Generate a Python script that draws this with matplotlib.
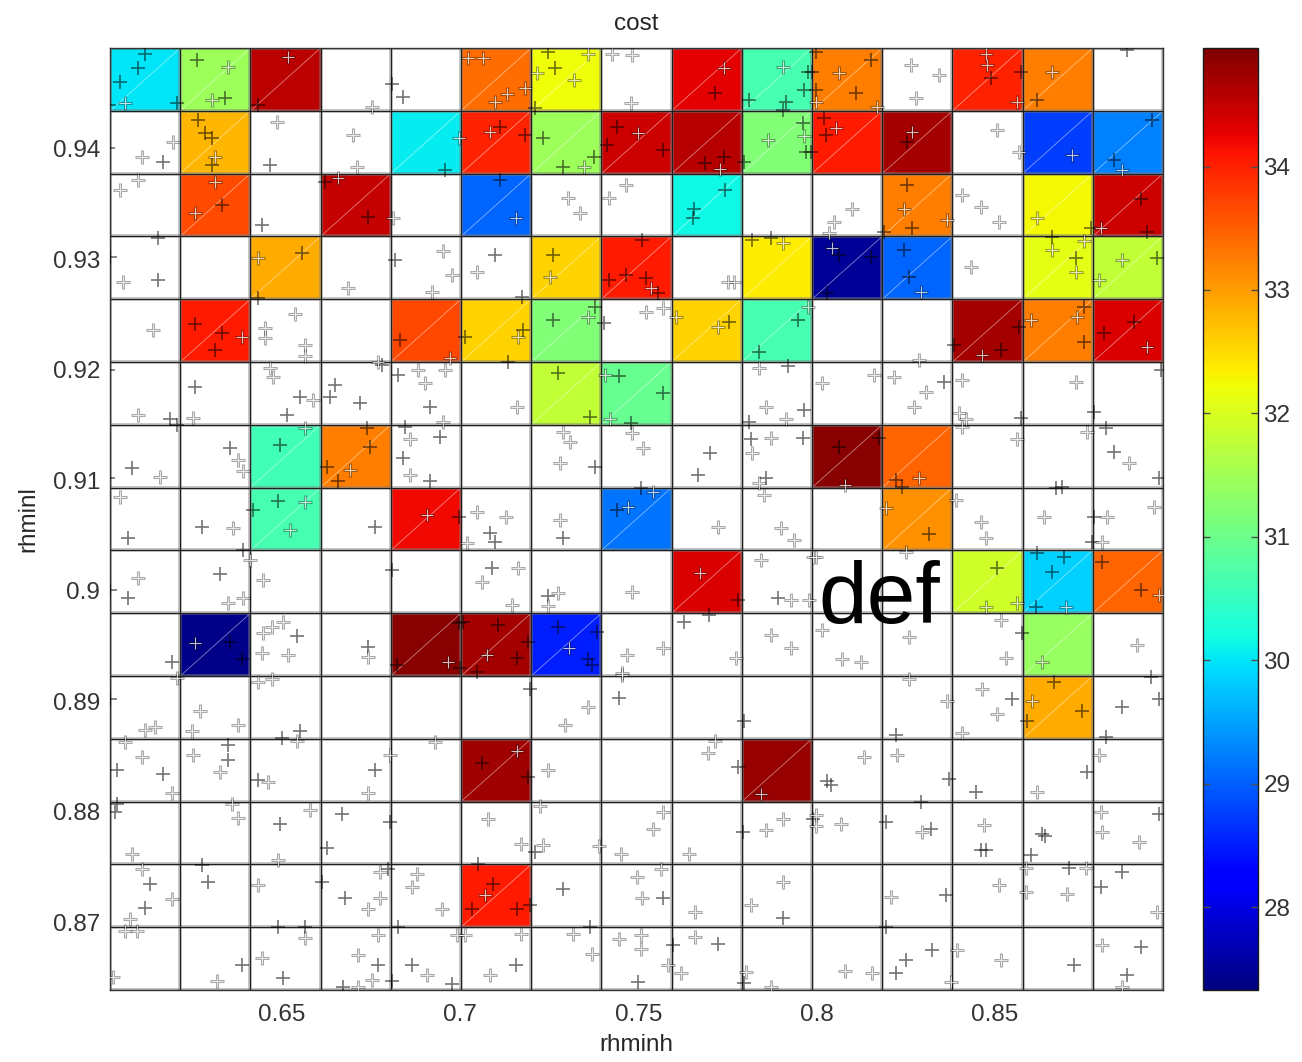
import numpy as np
import matplotlib
matplotlib.use('Agg')
import matplotlib.pyplot as plt
from matplotlib.colors import Normalize

plt.rcParams['font.family'] = ['Liberation Sans', 'DejaVu Sans']

# parameter ranges covered by the 15 x 15 binning
rhminh_range = (0.6017, 0.8972)
rhminl_range = (0.8639, 0.9491)
n_bins = 15
cost_range = (27.33, 34.96)

nan = np.nan
# mean cost per bin, rows listed from the top (high rhminl) down
cost_rows = [
    [30.0, 31.45, 34.55, nan, nan, 33.4, 32.2, nan, 34.3, 30.65, 33.25, nan, 34.0, 33.25, nan],
    [nan, 32.8, nan, nan, 30.05, 34.0, 31.45, 34.45, 34.6, 31.2, 34.05, 34.7, nan, 28.75, 29.25],
    [nan, 33.65, nan, 34.5, nan, 29.05, nan, nan, 30.15, nan, nan, 33.25, nan, 32.25, 34.45],
    [nan, nan, 32.9, nan, nan, nan, 32.55, 34.05, nan, 32.35, 27.5, 29.05, nan, 32.1, 31.8],
    [nan, 34.05, nan, nan, 33.7, 32.55, 31.2, nan, 32.55, 30.65, nan, nan, 34.7, 33.25, 34.35],
    [nan, nan, nan, nan, nan, nan, 31.8, 30.95, nan, nan, nan, nan, nan, nan, nan],
    [nan, nan, 30.6, 33.25, nan, nan, nan, nan, nan, nan, 34.9, 33.45, nan, nan, nan],
    [nan, nan, 30.65, nan, 34.2, nan, nan, 29.15, nan, nan, nan, 33.1, nan, nan, nan],
    [nan, nan, nan, nan, nan, nan, nan, nan, 34.35, nan, nan, nan, 31.9, 29.85, 33.45],
    [nan, 27.4, nan, nan, 34.9, 34.7, 28.5, nan, nan, nan, nan, nan, nan, 31.4, nan],
    [nan, nan, nan, nan, nan, nan, nan, nan, nan, nan, nan, nan, nan, 32.9, nan],
    [nan, nan, nan, nan, nan, 34.75, nan, nan, nan, 34.8, nan, nan, nan, nan, nan],
    [nan] * 15,
    [nan, nan, nan, nan, nan, 34.05, nan, nan, nan, nan, nan, nan, nan, nan, nan],
    [nan] * 15,
]

# sampled runs (rhminh, rhminl), split by marker shade
dark_runs = [
    (0.6115, 0.9486), (0.6096, 0.9473), (0.6045, 0.9460), (0.6015, 0.9439), (0.6205, 0.9441),
    (0.6261, 0.9480), (0.6340, 0.9446), (0.6433, 0.9439), (0.6809, 0.9458), (0.6840, 0.9447),
    (0.6958, 0.9381), (0.6011, 0.9401), (0.6166, 0.9388), (0.6264, 0.9426), (0.6284, 0.9414),
    (0.6304, 0.9410), (0.6304, 0.9385), (0.6466, 0.9385), (0.6332, 0.9349), (0.6444, 0.9331),
    (0.6621, 0.9370), (0.6742, 0.9338), (0.6152, 0.9319), (0.6017, 0.9302), (0.6152, 0.9281),
    (0.6556, 0.9306), (0.6433, 0.9265), (0.6818, 0.9299), (0.6256, 0.9241), (0.6332, 0.9233),
    (0.6312, 0.9218), (0.6832, 0.9227),
    (0.7245, 0.9487), (0.7267, 0.9473), (0.7211, 0.9437), (0.7716, 0.9450), (0.7975, 0.9469),
    (0.7809, 0.9444), (0.7913, 0.9442), (0.7964, 0.9453), (0.7907, 0.9435), (0.7112, 0.9420),
    (0.7183, 0.9412), (0.7233, 0.9410), (0.7287, 0.9383), (0.7374, 0.9392), (0.7441, 0.9420),
    (0.7413, 0.9403), (0.7568, 0.9399), (0.7688, 0.9387), (0.7739, 0.9392), (0.7795, 0.9388),
    (0.7961, 0.9423), (0.7969, 0.9397), (0.7112, 0.9372), (0.7744, 0.9363), (0.7655, 0.9345),
    (0.7652, 0.9337), (0.7098, 0.9304), (0.7261, 0.9304), (0.7511, 0.9317), (0.7464, 0.9286),
    (0.7520, 0.9283), (0.7416, 0.9281), (0.7554, 0.9269), (0.7820, 0.9317), (0.7871, 0.9319),
    (0.7174, 0.9266), (0.7014, 0.9230), (0.7177, 0.9236), (0.7135, 0.9207), (0.7259, 0.9245),
    (0.7379, 0.9257), (0.7402, 0.9242), (0.7753, 0.9243), (0.7947, 0.9245), (0.7837, 0.9216),
    (0.7999, 0.9487), (0.8871, 0.9489), (0.7986, 0.9469), (0.8152, 0.9480), (0.8110, 0.9450),
    (0.7999, 0.9453), (0.8489, 0.9464), (0.8573, 0.9469), (0.8618, 0.9444), (0.8020, 0.9428),
    (0.8025, 0.9412), (0.7983, 0.9397), (0.8253, 0.9406), (0.8941, 0.9426), (0.8834, 0.9390),
    (0.8253, 0.9367), (0.8267, 0.9328), (0.8188, 0.9325), (0.8910, 0.9354), (0.8927, 0.9325),
    (0.8770, 0.9328), (0.8062, 0.9304), (0.8152, 0.9302), (0.8028, 0.9269), (0.8245, 0.9308),
    (0.8259, 0.9284), (0.8660, 0.9320), (0.8728, 0.9301), (0.8955, 0.9301), (0.8385, 0.9222),
    (0.8568, 0.9239), (0.8517, 0.9218), (0.8750, 0.9257), (0.8750, 0.9225), (0.8891, 0.9243),
    (0.8806, 0.9233),
    (0.6011, 0.9200), (0.6186, 0.9155), (0.6205, 0.9150), (0.6256, 0.9184), (0.6551, 0.9175),
    (0.6514, 0.9159), (0.6649, 0.9186), (0.6635, 0.9175), (0.6719, 0.9170), (0.6826, 0.9195),
    (0.6916, 0.9166), (0.6781, 0.9204), (0.6079, 0.9111), (0.6011, 0.9102), (0.6354, 0.9129),
    (0.6495, 0.9132), (0.6739, 0.9147), (0.6747, 0.9130), (0.6627, 0.9112), (0.6657, 0.9099),
    (0.6846, 0.9148), (0.6944, 0.9139), (0.6840, 0.9120), (0.6916, 0.9099), (0.6068, 0.9048),
    (0.6275, 0.9058), (0.6419, 0.9073), (0.6489, 0.9081), (0.6761, 0.9058), (0.6995, 0.9067),
    (0.6391, 0.9037), (0.6017, 0.9001), (0.6068, 0.8994), (0.6326, 0.9015), (0.6809, 0.9019),
    (0.6191, 0.8936), (0.6354, 0.8954), (0.6388, 0.8938), (0.6542, 0.8959), (0.6742, 0.8949),
    (0.6823, 0.8933), (0.6995, 0.8971),
    (0.7273, 0.9197), (0.7365, 0.9157), (0.7444, 0.9194), (0.7568, 0.9179), (0.7478, 0.9152),
    (0.7919, 0.9203), (0.7964, 0.9164), (0.7809, 0.9153), (0.7379, 0.9112), (0.7702, 0.9125),
    (0.7666, 0.9105), (0.7815, 0.9137), (0.7961, 0.9138), (0.7857, 0.9102), (0.7084, 0.9052),
    (0.7098, 0.9044), (0.7289, 0.9048), (0.7441, 0.9073), (0.7506, 0.9093), (0.7090, 0.9021),
    (0.7247, 0.8995), (0.7778, 0.8992), (0.7891, 0.8994), (0.7107, 0.8969), (0.7160, 0.8939),
    (0.7191, 0.8954), (0.7048, 0.8927), (0.7000, 0.8930), (0.7009, 0.8972), (0.7273, 0.8967),
    (0.7385, 0.8963), (0.7357, 0.8938), (0.7371, 0.8933), (0.7627, 0.8972), (0.7697, 0.8978),
    (0.8357, 0.9189), (0.8573, 0.9156), (0.8778, 0.9162), (0.8966, 0.9200), (0.8062, 0.9130),
    (0.8174, 0.9138), (0.8222, 0.9100), (0.8239, 0.9094), (0.8812, 0.9147), (0.8834, 0.9126),
    (0.8961, 0.9102), (0.8315, 0.9051), (0.8688, 0.9094), (0.8672, 0.9093), (0.8778, 0.9067),
    (0.8773, 0.9044), (0.8506, 0.9021), (0.8618, 0.9034), (0.8694, 0.9031), (0.8660, 0.9017),
    (0.8615, 0.8985), (0.8801, 0.9026), (0.8910, 0.9001), (0.8576, 0.8962),
    (0.6017, 0.8902), (0.6551, 0.8873), (0.6500, 0.8867), (0.6037, 0.8838), (0.6166, 0.8834),
    (0.6348, 0.8861), (0.6348, 0.8847), (0.6433, 0.8829), (0.6761, 0.8838), (0.6037, 0.8807),
    (0.6031, 0.8800), (0.6495, 0.8789), (0.6669, 0.8798), (0.6627, 0.8767), (0.6804, 0.8791),
    (0.6129, 0.8735), (0.6115, 0.8713), (0.6275, 0.8752), (0.6292, 0.8737), (0.6612, 0.8737),
    (0.6677, 0.8722), (0.6798, 0.8748), (0.6388, 0.8662), (0.6489, 0.8696), (0.6565, 0.8696),
    (0.6503, 0.8650), (0.6770, 0.8662), (0.6672, 0.8642), (0.6826, 0.8696), (0.6865, 0.8662),
    (0.6978, 0.8644), (0.6809, 0.8647),
    (0.7197, 0.8911), (0.7444, 0.8903), (0.7795, 0.8882), (0.7062, 0.8844), (0.7191, 0.8832),
    (0.7778, 0.8841), (0.7211, 0.8764), (0.7792, 0.8782), (0.7989, 0.8794), (0.7051, 0.8753),
    (0.7093, 0.8735), (0.7034, 0.8712), (0.7160, 0.8712), (0.7197, 0.8716), (0.7287, 0.8730),
    (0.7570, 0.8722), (0.7907, 0.8704), (0.7155, 0.8662), (0.7365, 0.8696), (0.7500, 0.8646),
    (0.7598, 0.8680), (0.7722, 0.8681), (0.7795, 0.8645),
    (0.8222, 0.8870), (0.8548, 0.8902), (0.8666, 0.8918), (0.8745, 0.8891), (0.8590, 0.8882),
    (0.8857, 0.8895), (0.8938, 0.8922), (0.8961, 0.8902), (0.8812, 0.8868), (0.8028, 0.8828),
    (0.8040, 0.8824), (0.8371, 0.8830), (0.8447, 0.8818), (0.8758, 0.8836), (0.8194, 0.8791),
    (0.8292, 0.8809), (0.8320, 0.8785), (0.8475, 0.8766), (0.8461, 0.8766), (0.8632, 0.8780),
    (0.8640, 0.8778), (0.8601, 0.8761), (0.8961, 0.8798), (0.8362, 0.8725), (0.8708, 0.8749),
    (0.8857, 0.8746), (0.8798, 0.8732), (0.8194, 0.8696), (0.8250, 0.8666), (0.8222, 0.8654),
    (0.8323, 0.8675), (0.8722, 0.8662), (0.8910, 0.8678), (0.8871, 0.8653),
]

light_runs = [
    (0.6059, 0.9441), (0.6348, 0.9474), (0.6304, 0.9444), (0.6517, 0.9483), (0.6753, 0.9438),
    (0.6995, 0.9410), (0.6194, 0.9406), (0.6107, 0.9392), (0.6312, 0.9392), (0.6486, 0.9424),
    (0.6700, 0.9412), (0.6711, 0.9383), (0.6045, 0.9363), (0.6096, 0.9372), (0.6312, 0.9370),
    (0.6256, 0.9342), (0.6657, 0.9373), (0.6812, 0.9337), (0.6054, 0.9279), (0.6433, 0.9301),
    (0.6686, 0.9274), (0.6952, 0.9307), (0.6978, 0.9286), (0.6921, 0.9270), (0.6138, 0.9236),
    (0.6388, 0.9230), (0.6537, 0.9250), (0.6452, 0.9238), (0.6452, 0.9229), (0.6565, 0.9222),
    (0.6565, 0.9212), (0.6972, 0.9211), (0.6770, 0.9207),
    (0.7023, 0.9482), (0.7065, 0.9482), (0.7098, 0.9442), (0.7132, 0.9449), (0.7183, 0.9455),
    (0.7216, 0.9468), (0.7318, 0.9462), (0.7357, 0.9486), (0.7427, 0.9486), (0.7483, 0.9485),
    (0.7478, 0.9441), (0.7739, 0.9473), (0.7907, 0.9474), (0.7084, 0.9415), (0.7346, 0.9383),
    (0.7500, 0.9414), (0.7730, 0.9382), (0.7863, 0.9408), (0.7964, 0.9411), (0.7155, 0.9337),
    (0.7301, 0.9355), (0.7337, 0.9342), (0.7464, 0.9367), (0.7416, 0.9355), (0.7048, 0.9288),
    (0.7253, 0.9284), (0.7534, 0.9274), (0.7750, 0.9279), (0.7767, 0.9279), (0.7907, 0.9315),
    (0.7163, 0.9230), (0.7357, 0.9248), (0.7520, 0.9252), (0.7570, 0.9256), (0.7722, 0.9239),
    (0.7604, 0.9248), (0.7975, 0.9257),
    (0.8062, 0.9468), (0.8169, 0.9438), (0.7997, 0.9442), (0.8264, 0.9476), (0.8343, 0.9467),
    (0.8278, 0.9446), (0.8475, 0.9486), (0.8478, 0.9476), (0.8562, 0.9442), (0.8660, 0.9469),
    (0.8054, 0.9419), (0.8267, 0.9415), (0.8506, 0.9417), (0.8568, 0.9397), (0.8716, 0.9394),
    (0.8857, 0.9381), (0.8098, 0.9345), (0.8048, 0.9334), (0.8034, 0.9324), (0.8245, 0.9345),
    (0.8365, 0.9335), (0.8407, 0.9358), (0.8461, 0.9347), (0.8511, 0.9334), (0.8618, 0.9337),
    (0.8798, 0.9328), (0.8042, 0.9310), (0.8292, 0.9270), (0.8433, 0.9293), (0.8660, 0.9308),
    (0.8728, 0.9288), (0.8750, 0.9316), (0.8857, 0.9299), (0.8792, 0.9281), (0.8287, 0.9209),
    (0.8464, 0.9213), (0.8601, 0.9245), (0.8730, 0.9248), (0.8927, 0.9221),
    (0.6096, 0.9159), (0.6250, 0.9156), (0.6466, 0.9202), (0.6475, 0.9193), (0.6587, 0.9173),
    (0.6882, 0.9200), (0.6902, 0.9188), (0.6958, 0.9200), (0.6952, 0.9153), (0.6157, 0.9103),
    (0.6377, 0.9118), (0.6391, 0.9108), (0.6565, 0.9147), (0.6691, 0.9109), (0.6860, 0.9137),
    (0.6860, 0.9105), (0.6045, 0.9085), (0.6363, 0.9057), (0.6565, 0.9080), (0.6523, 0.9055),
    (0.6907, 0.9069), (0.6410, 0.9028), (0.6096, 0.9012), (0.6348, 0.8989), (0.6391, 0.8994),
    (0.6447, 0.9010), (0.6256, 0.8953), (0.6503, 0.8972), (0.6472, 0.8967), (0.6447, 0.8962),
    (0.6444, 0.8944), (0.6517, 0.8942), (0.6742, 0.8940), (0.6966, 0.8936),
    (0.7160, 0.9166), (0.7407, 0.9195), (0.7421, 0.9155), (0.7837, 0.9202), (0.7857, 0.9166),
    (0.7913, 0.9155), (0.7287, 0.9144), (0.7309, 0.9135), (0.7281, 0.9116), (0.7483, 0.9143),
    (0.7514, 0.9129), (0.7871, 0.9138), (0.7820, 0.9125), (0.7837, 0.9098), (0.7851, 0.9087),
    (0.7048, 0.9071), (0.7127, 0.9067), (0.7020, 0.9043), (0.7281, 0.9064), (0.7472, 0.9076),
    (0.7542, 0.9089), (0.7722, 0.9058), (0.7899, 0.9057), (0.7936, 0.9046), (0.7062, 0.9008),
    (0.7163, 0.9021), (0.7146, 0.8987), (0.7275, 0.8998), (0.7247, 0.8986), (0.7483, 0.8999),
    (0.7674, 0.9016), (0.7843, 0.9028), (0.7927, 0.8992), (0.7989, 0.9031), (0.7978, 0.8992),
    (0.7076, 0.8942), (0.7304, 0.8948), (0.7568, 0.8948), (0.7469, 0.8942), (0.7455, 0.8926),
    (0.7871, 0.8960), (0.7927, 0.8948), (0.7773, 0.8939),
    (0.8014, 0.9188), (0.8160, 0.9195), (0.8216, 0.9193), (0.8306, 0.9180), (0.8273, 0.9166),
    (0.8407, 0.9191), (0.8399, 0.9161), (0.8419, 0.9155), (0.8728, 0.9189), (0.8081, 0.9096),
    (0.8287, 0.9102), (0.8407, 0.9148), (0.8562, 0.9137), (0.8758, 0.9144), (0.8877, 0.9116),
    (0.8194, 0.9075), (0.8391, 0.9082), (0.8461, 0.9062), (0.8475, 0.9048), (0.8638, 0.9067),
    (0.8815, 0.9067), (0.8801, 0.9044), (0.8947, 0.9076), (0.7999, 0.9031), (0.8250, 0.9035),
    (0.8475, 0.8985), (0.8562, 0.8989), (0.8700, 0.8985), (0.8961, 0.8996), (0.8014, 0.8965),
    (0.8070, 0.8938), (0.8124, 0.8936), (0.8258, 0.8958), (0.8517, 0.8974), (0.8531, 0.8939),
    (0.8632, 0.8936), (0.8899, 0.8951),
    (0.6143, 0.8877), (0.6115, 0.8874), (0.6270, 0.8891), (0.6247, 0.8873), (0.6377, 0.8879),
    (0.6205, 0.8921), (0.6433, 0.8918), (0.6472, 0.8920), (0.6059, 0.8863), (0.6107, 0.8850),
    (0.6191, 0.8817), (0.6250, 0.8852), (0.6326, 0.8836), (0.6542, 0.8864), (0.6461, 0.8827),
    (0.6742, 0.8817), (0.6804, 0.8852), (0.6930, 0.8863), (0.6079, 0.8762), (0.6360, 0.8807),
    (0.6377, 0.8795), (0.6489, 0.8757), (0.6579, 0.8802), (0.6107, 0.8748), (0.6191, 0.8721),
    (0.6073, 0.8703), (0.6433, 0.8734), (0.6742, 0.8712), (0.6775, 0.8722), (0.6775, 0.8746),
    (0.6879, 0.8744), (0.6865, 0.8732), (0.6950, 0.8712), (0.6059, 0.8692), (0.6093, 0.8692),
    (0.6025, 0.8651), (0.6318, 0.8647), (0.6565, 0.8686), (0.6444, 0.8668), (0.6714, 0.8671),
    (0.6770, 0.8689), (0.6753, 0.8648), (0.6714, 0.8642), (0.6907, 0.8653), (0.6992, 0.8689),
    (0.7357, 0.8895), (0.7295, 0.8879), (0.7455, 0.8924), (0.7160, 0.8855), (0.7247, 0.8838),
    (0.7716, 0.8864), (0.7694, 0.8853), (0.7843, 0.8816), (0.7079, 0.8794), (0.7169, 0.8771),
    (0.7225, 0.8805), (0.7233, 0.8770), (0.7388, 0.8769), (0.7450, 0.8762), (0.7568, 0.8800),
    (0.7542, 0.8785), (0.7641, 0.8762), (0.7857, 0.8784), (0.7907, 0.8794), (0.7070, 0.8725),
    (0.7497, 0.8741), (0.7562, 0.8748), (0.7511, 0.8722), (0.7660, 0.8710), (0.7905, 0.8737),
    (0.7815, 0.8716), (0.7014, 0.8689), (0.7169, 0.8690), (0.7084, 0.8653), (0.7315, 0.8690),
    (0.7371, 0.8672), (0.7444, 0.8685), (0.7506, 0.8689), (0.7506, 0.8676), (0.7582, 0.8662),
    (0.7618, 0.8654), (0.7660, 0.8687), (0.7801, 0.8655), (0.7871, 0.8642),
    (0.8258, 0.8920), (0.8365, 0.8900), (0.8464, 0.8911), (0.8506, 0.8889), (0.8407, 0.8871),
    (0.8604, 0.8900), (0.8132, 0.8850), (0.8225, 0.8852), (0.8618, 0.8818), (0.8792, 0.8852),
    (0.7999, 0.8797), (0.7997, 0.8787), (0.8068, 0.8789), (0.8295, 0.8782), (0.8469, 0.8788),
    (0.8798, 0.8800), (0.8801, 0.8782), (0.8905, 0.8773), (0.8208, 0.8723), (0.8511, 0.8734),
    (0.8587, 0.8749), (0.8587, 0.8728), (0.8756, 0.8749), (0.8702, 0.8726), (0.8955, 0.8710),
    (0.8081, 0.8656), (0.8155, 0.8654), (0.8393, 0.8675), (0.8376, 0.8646), (0.8517, 0.8666),
    (0.8801, 0.8680), (0.8857, 0.8642),
]

xticks = [0.65, 0.70, 0.75, 0.80, 0.85]
yticks = [0.87, 0.88, 0.89, 0.90, 0.91, 0.92, 0.93, 0.94]
cbar_ticks = [28, 29, 30, 31, 32, 33, 34]

W, H = 1302, 1062
fig = plt.figure(figsize=(W / 100, H / 100), dpi=100)
ax = fig.add_axes([110 / W, 72 / H, 1053 / W, 942 / H])
cax = fig.add_axes([1203 / W, 72 / H, 55 / W, 942 / H])

h_edges = np.linspace(rhminh_range[0], rhminh_range[1], n_bins + 1)
l_edges = np.linspace(rhminl_range[1], rhminl_range[0], n_bins + 1)  # top row first
cost = np.ma.masked_invalid(np.array(cost_rows))
norm = Normalize(vmin=cost_range[0], vmax=cost_range[1])
mesh = ax.pcolormesh(h_edges, l_edges, cost, cmap='jet', norm=norm, zorder=1)

# thin seam across each filled bin (the patches are split in two triangles)
rows, cols = np.nonzero(~cost.mask)
for r, c in zip(rows, cols):
    ax.plot([h_edges[c], h_edges[c + 1]], [l_edges[r + 1], l_edges[r]],
            color='white', lw=0.6, alpha=0.5, zorder=1.5)

# bin borders
for e in h_edges:
    ax.axvline(e, color='0.5', lw=2.6, alpha=0.55, zorder=2)
    ax.axvline(e, color='0.12', lw=0.8, zorder=2.1)
for e in l_edges:
    ax.axhline(e, color='0.5', lw=2.6, alpha=0.55, zorder=2)
    ax.axhline(e, color='0.12', lw=0.8, zorder=2.1)

dk = np.array(dark_runs)
lt = np.array(light_runs)
ax.plot(dk[:, 0], dk[:, 1], '+', ms=9.5, mew=1.2, color='k', alpha=0.55, zorder=3)
# light markers: white cross with a grey rim, so they read grey on white bins
ax.plot(lt[:, 0], lt[:, 1], '+', ms=9.5, mew=2.2, color='k', alpha=0.35, zorder=3)
ax.plot(lt[:, 0], lt[:, 1], '+', ms=9, mew=0.8, color='white', alpha=0.75, zorder=3.1)

ax.text(0.8006, 0.8971, 'def', fontsize=63, ha='left', va='baseline', zorder=4)

ax.set_xlim(rhminh_range)
ax.set_ylim(rhminl_range)
ax.set_xticks(xticks)
ax.set_xticklabels(['%g' % t for t in xticks])
ax.set_yticks(yticks)
ax.set_yticklabels(['%g' % t for t in yticks])
ax.tick_params(length=0, labelsize=17.5, labelcolor='0.2')
ax.tick_params(axis='x', pad=10)
ax.tick_params(axis='y', pad=7)
for s in ax.spines.values():
    s.set_color('0.2')
    s.set_linewidth(1.0)

ax.set_title('cost', fontsize=17.5, color='0.15', pad=13)
ax.set_xlabel('rhminh', fontsize=17.5, color='0.15', labelpad=6)
ax.set_ylabel('rhminl', fontsize=17.5, color='0.15', labelpad=10)

cb = fig.colorbar(mesh, cax=cax, ticks=cbar_ticks)
cb.outline.set_linewidth(1.0)
cb.outline.set_edgecolor('0.1')
cax.tick_params(direction='in', left=True, right=True, length=5, width=1,
                color='0.3', labelsize=17.5, labelcolor='0.2', pad=4)

fig.savefig('out.png', dpi=100)
